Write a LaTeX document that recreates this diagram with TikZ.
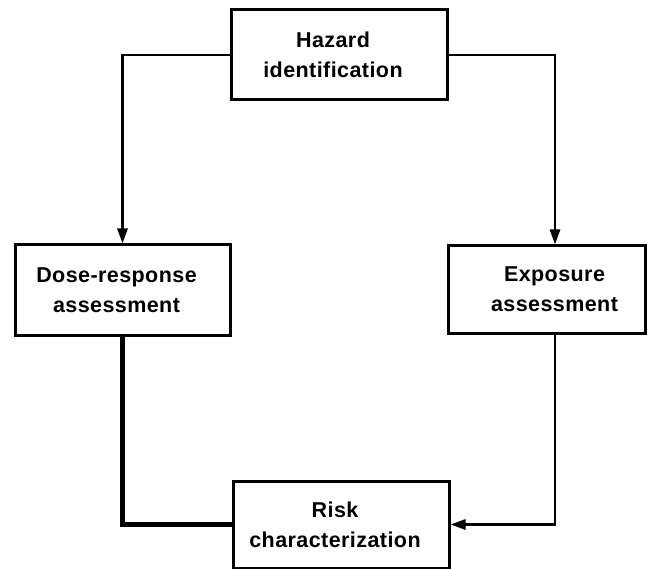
\documentclass[tikz,border=0pt]{standalone}
\usepackage{fontspec}
\setmainfont{Liberation Sans}[LetterSpace=2]
\usetikzlibrary{arrows.meta}
% pad each line on one side so the caption sits off-centre in its box
\newcommand{\padR}[1]{#1\hspace*{12pt}}
\newcommand{\padL}[1]{\hspace*{16pt}#1}
\begin{document}
\begin{tikzpicture}[x=1pt,y=-1pt,
  stagebox/.style={draw, line width=3pt, minimum width=#1, align=center,
    font=\bfseries\fontsize{21.5}{30}\selectfont, inner sep=0pt},
  link/.style={line width=2.8pt},
  tip/.style={-{Triangle[length=15pt,width=10pt]}}]
\useasboundingbox (0,0) rectangle (653,569);
\node[stagebox=216pt, minimum height=90pt] (haz) at (339,55)
  {\padR{Hazard}\\\padR{identification}};
\node[stagebox=215pt, minimum height=90pt] (dose) at (122.5,290)
  {\padR{Dose-response}\\\padR{assessment}};
\node[stagebox=197pt, minimum height=87pt] (exp) at (546.5,289.5)
  {\padL{Exposure}\\\padL{assessment}};
\node[stagebox=216pt, minimum height=87pt] (risk) at (341,524.5)
  {\padR{Risk}\\\padR{characterization}};
\coordinate (expin) at ([xshift=8.5pt]exp.north);
\coordinate (expout) at ([xshift=8.5pt]exp.south);
\draw[link,tip] (haz.west) -| (dose.north);
\draw[link,tip] (haz.east) -| (expin);
\draw[line width=4.5pt] (dose.south) |- (risk.west);
\draw[link,tip] (expout) |- (risk.east);
\end{tikzpicture}
\end{document}
